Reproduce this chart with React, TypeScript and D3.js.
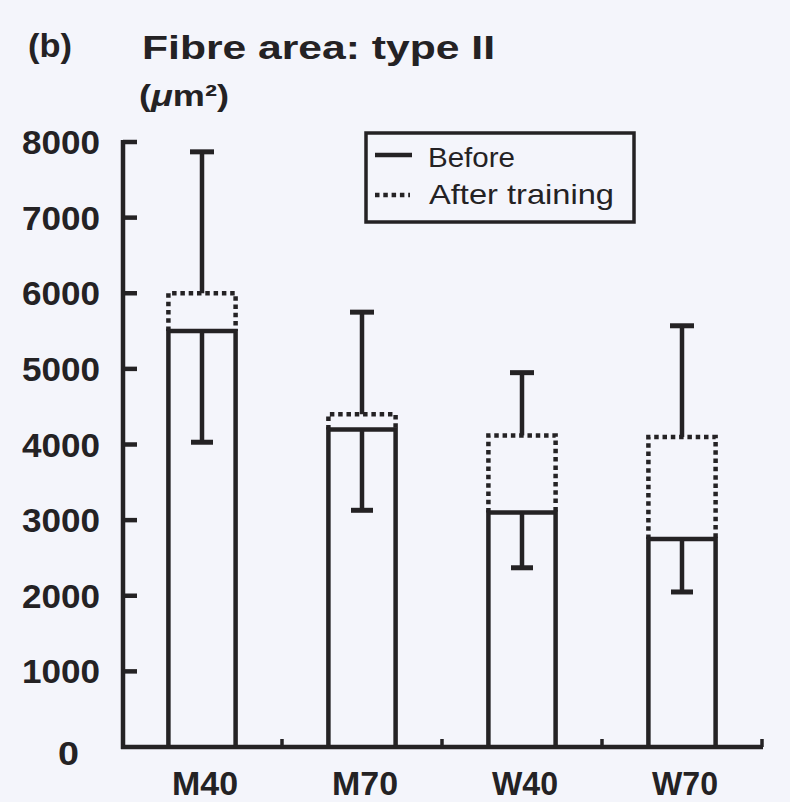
import React from "react";
import * as d3 from "d3";

// Fibre area (type II), means and SDs before and after training
const groups = ["M40", "M70", "W40", "W70"];
const beforeMean = [5500, 4200, 3100, 2750];
const afterMean = [6000, 4400, 4120, 4100];
const beforeSD = [1470, 1070, 730, 700];
const afterSD = [1870, 1350, 830, 1470];
const yTicks = [0, 1000, 2000, 3000, 4000, 5000, 6000, 7000, 8000];

const INK = "#242224";
const BG = "#f4f5fb";
const SW = 4.5;

export default function App() {
  const width = 790;
  const height = 802;
  const x = d3
    .scaleBand<string>()
    .domain(groups)
    .range([122, 762])
    .paddingInner(0.58)
    .paddingOuter(0.29);
  const y = d3.scaleLinear().domain([0, 8000]).range([747, 142]);
  const step = x.step();
  const bw = x.bandwidth();
  const y0 = y(0);

  return (
    <svg
      width={width}
      height={height}
      style={{ position: "absolute", left: 0, top: 0 }}
      fontFamily="'Liberation Sans', Arial, sans-serif"
    >
      <rect x={0} y={0} width={width} height={height} fill={BG} />

      {/* titles */}
      <text x={28} y={57} fontSize={33} fontWeight="bold" fill={INK} textLength={44} lengthAdjust="spacingAndGlyphs">
        (b)
      </text>
      <text x={142} y={59} fontSize={34} fontWeight="bold" fill={INK} textLength={353} lengthAdjust="spacingAndGlyphs">
        Fibre area: type II
      </text>
      <text x={139} y={106} fontSize={30} fontWeight="bold" fill={INK} textLength={90} lengthAdjust="spacingAndGlyphs">
        (<tspan fontStyle="italic">μ</tspan>m²)
      </text>

      {/* y axis */}
      <line x1={123} x2={123} y1={y(8000) - 2} y2={y0 + 2} stroke={INK} strokeWidth={SW} />
      {yTicks.map((t, i) => (
        <g key={t}>
          {t > 0 && <line x1={123} x2={137} y1={y(t)} y2={y(t)} stroke={INK} strokeWidth={SW} />}
          <text
            x={i === 0 ? 79 : 100}
            y={y(t) + (i === 0 ? 18 : 12)}
            textAnchor="end"
            fontSize={34}
            fontWeight="bold"
            fill={INK}
            textLength={i === 0 ? 21 : 78}
            lengthAdjust="spacingAndGlyphs"
          >
            {t}
          </text>
        </g>
      ))}

      {/* x axis with small separators between groups */}
      <line x1={121} x2={763} y1={y0} y2={y0} stroke={INK} strokeWidth={SW} />
      {groups.map((g) => {
        const sep = (x(g) as number) - step * 0.29 + step;
        return <line key={g} x1={sep} x2={sep} y1={y0} y2={y0 - 8} stroke={INK} strokeWidth={3.5} />;
      })}

      {/* bars */}
      {groups.map((g, i) => {
        const x0 = x(g) as number;
        const x1 = x0 + bw;
        const cx = x0 + bw / 2;
        const yb = y(beforeMean[i]);
        const ya = y(afterMean[i]);
        const yUp = y(afterMean[i] + afterSD[i]);
        const yLo = y(beforeMean[i] - beforeSD[i]);
        return (
          <g key={g}>
            <path
              d={`M${x0},${yb}V${ya}H${x1}V${yb}`}
              fill="none"
              stroke={INK}
              strokeWidth={SW}
              strokeDasharray="4.5 3.8"
            />
            <path
              d={`M${x0},${y0}V${yb}H${x1}V${y0}`}
              fill="none"
              stroke={INK}
              strokeWidth={SW}
            />
            <line x1={cx} x2={cx} y1={ya} y2={yUp} stroke={INK} strokeWidth={SW} />
            <line x1={cx - 12} x2={cx + 12} y1={yUp} y2={yUp} stroke={INK} strokeWidth={5} />
            <line x1={cx} x2={cx} y1={yb} y2={yLo} stroke={INK} strokeWidth={SW} />
            <line x1={cx - 11} x2={cx + 11} y1={yLo} y2={yLo} stroke={INK} strokeWidth={5} />
            <text
              x={cx + 3}
              y={795}
              textAnchor="middle"
              fontSize={33}
              fontWeight="bold"
              fill={INK}
              textLength={66}
              lengthAdjust="spacingAndGlyphs"
            >
              {g}
            </text>
          </g>
        );
      })}

      {/* legend */}
      <rect x={366} y={133} width={268} height={89} fill={BG} stroke={INK} strokeWidth={3.5} />
      <line x1={375} x2={412} y1={155} y2={155} stroke={INK} strokeWidth={SW} />
      <text x={428} y={167} fontSize={28} fill={INK} textLength={87} lengthAdjust="spacingAndGlyphs">
        Before
      </text>
      <line x1={375} x2={410} y1={195} y2={195} stroke={INK} strokeWidth={SW} strokeDasharray="4.5 3.8" />
      <text x={429} y={204} fontSize={28} fill={INK} textLength={185} lengthAdjust="spacingAndGlyphs">
        After training
      </text>
    </svg>
  );
}
